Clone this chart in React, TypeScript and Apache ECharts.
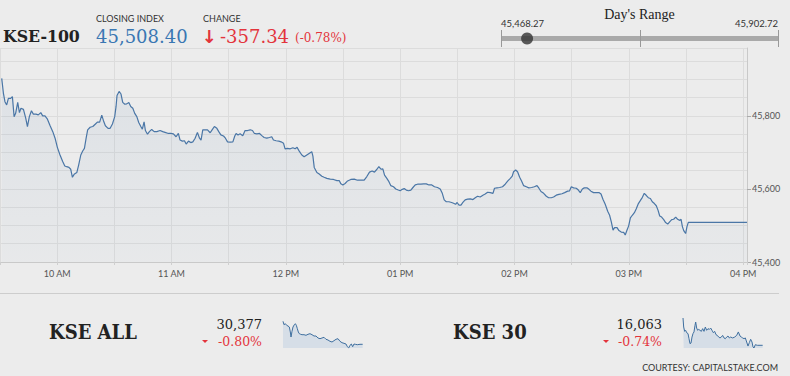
import React, { useEffect, useRef } from "react";
import * as echarts from "echarts";

// ---------- DATA ----------
// KSE-100 intraday points: [minutes since midnight, index value]
const kse100Points: [number, number][] = [
  [570.9, 45902.7], [571.8, 45862], [572.6, 45839], [573.5, 45830], [574.4, 45848], [575.6, 45848], [576.5, 45853], [577.4, 45798], [578.2, 45807], [579.3, 45837],
  [580.2, 45809], [581.0, 45821], [582.3, 45818], [583.5, 45794], [584.4, 45771], [585.4, 45798], [586.5, 45814], [587.5, 45805], [588.9, 45805], [590.1, 45803],
  [591.4, 45809], [592.4, 45800], [593.6, 45800], [594.9, 45791], [596.3, 45773], [597.7, 45757], [598.9, 45739], [600.1, 45714], [601.5, 45693], [602.9, 45675],
  [604.0, 45663], [605.0, 45661], [606.2, 45659], [607.1, 45654], [608.0, 45632], [608.9, 45640], [610.3, 45645], [611.3, 45666], [612.4, 45693], [613.4, 45704],
  [614.3, 45711], [615.2, 45739], [616.0, 45762], [617.3, 45769], [618.7, 45771], [620.1, 45778], [621.1, 45783], [622.3, 45783], [623.4, 45802], [624.3, 45787],
  [625.3, 45773], [626.7, 45766], [627.8, 45766], [629.0, 45778], [630.2, 45798], [630.9, 45826], [631.4, 45856], [632.5, 45867], [633.5, 45860], [634.4, 45837],
  [635.5, 45832], [636.5, 45833], [637.6, 45837], [638.6, 45826], [639.7, 45821], [640.7, 45807], [641.8, 45798], [642.8, 45782], [643.9, 45771], [644.7, 45764],
  [645.6, 45784], [646.3, 45760], [647.4, 45750], [648.4, 45757], [649.6, 45763], [650.9, 45757], [652.3, 45757], [654.0, 45760], [655.4, 45757], [656.6, 45755],
  [658.4, 45752], [659.6, 45752],
  [661.0, 45751], [662.4, 45743], [663.6, 45752], [664.5, 45734], [665.7, 45731], [666.8, 45732], [667.7, 45723], [668.9, 45731], [670.1, 45727], [671.2, 45729],
  [672.4, 45739], [673.6, 45755], [674.7, 45739], [675.5, 45734], [676.4, 45762], [677.6, 45762], [678.9, 45762], [680.3, 45754], [681.3, 45762], [682.5, 45771],
  [683.8, 45766], [684.8, 45757], [685.9, 45748], [687.3, 45745], [688.3, 45739], [689.4, 45729], [690.8, 45728], [692.2, 45729], [693.2, 45745], [693.9, 45752],
  [694.9, 45748], [696.0, 45751], [697.4, 45746], [698.6, 45760], [699.9, 45760], [701.3, 45762], [702.5, 45760], [703.5, 45752], [704.8, 45751], [706.2, 45752],
  [707.4, 45746], [708.6, 45741], [710.0, 45739], [711.4, 45741], [712.6, 45743], [713.5, 45734], [714.9, 45732], [716.3, 45731], [717.5, 45729], [718.8, 45725],
  [719.6, 45710], [720.9, 45711], [722.3, 45710], [723.7, 45713], [724.9, 45710], [725.9, 45714], [727.2, 45702], [728.4, 45693], [729.6, 45688], [731.0, 45693],
  [732.4, 45698], [733.6, 45702], [734.2, 45690], [734.9, 45659], [736.3, 45645], [737.5, 45641], [738.9, 45635], [740.1, 45632], [741.5, 45629], [743.3, 45627],
  [745.0, 45626], [746.8, 45623], [748.0, 45623], [748.9, 45614], [749.9, 45611],
  [751.1, 45615], [752.4, 45622], [754.1, 45626], [755.9, 45627], [757.6, 45624], [759.4, 45624], [761.1, 45624], [762.5, 45634], [763.9, 45646], [765.3, 45649],
  [766.5, 45646], [767.8, 45654], [768.8, 45661], [769.9, 45654], [770.9, 45655], [771.8, 45638], [773.0, 45629], [774.1, 45620], [775.1, 45609], [776.5, 45606],
  [777.7, 45600], [779.0, 45597], [780.0, 45595], [781.1, 45599], [782.1, 45601], [783.2, 45597], [784.4, 45595], [785.6, 45597], [786.7, 45604], [787.9, 45611],
  [789.1, 45613], [790.9, 45613], [792.3, 45614], [793.7, 45614], [795.1, 45611], [796.6, 45611], [798.0, 45606], [799.6, 45604], [801.0, 45600], [802.1, 45588],
  [803.1, 45570], [804.2, 45565], [805.6, 45565], [807.0, 45563], [808.0, 45561], [809.1, 45558], [809.9, 45563], [810.8, 45556], [811.9, 45556], [812.9, 45563],
  [814.1, 45570], [815.4, 45572], [816.8, 45573], [818.2, 45571], [819.4, 45576], [820.6, 45580], [822.0, 45578], [823.4, 45583], [824.6, 45586], [825.9, 45591],
  [827.3, 45590], [828.7, 45588], [829.5, 45602], [830.8, 45603], [832.2, 45604], [833.7, 45606], [835.1, 45613], [836.5, 45622], [837.8, 45629],
  [838.8, 45635], [839.5, 45647], [840.6, 45652], [841.6, 45647], [842.7, 45632], [843.7, 45622], [844.8, 45609], [846.2, 45606], [847.5, 45603], [849.0, 45604],
  [850.4, 45606], [851.8, 45609], [852.8, 45602], [853.9, 45593], [855.3, 45588], [856.7, 45580], [857.9, 45576], [859.3, 45576], [860.5, 45578], [861.9, 45583],
  [863.3, 45585], [864.9, 45587], [866.3, 45590], [867.9, 45594], [868.9, 45595], [869.8, 45606], [871.0, 45603], [872.4, 45602], [873.5, 45597], [874.5, 45590],
  [875.6, 45600], [876.6, 45603], [878.0, 45603], [879.1, 45599], [880.1, 45594], [881.5, 45590], [882.9, 45590], [884.3, 45590], [885.4, 45586], [886.4, 45572],
  [887.6, 45558], [888.9, 45539], [889.9, 45528], [890.8, 45510], [891.7, 45487], [892.5, 45494], [893.8, 45494], [894.8, 45486], [896.0, 45482], [897.3, 45481],
  [898.1, 45474], [899.0, 45487], [899.9, 45499], [900.8, 45521], [901.8, 45528], [902.9, 45535], [903.9, 45546], [905.0, 45560], [906.0, 45568], [907.1, 45577],
  [908.1, 45588], [909.2, 45582], [910.2, 45576], [911.3, 45574], [912.3, 45565], [913.4, 45560], [914.4, 45554], [915.3, 45542], [916.2, 45526], [917.2, 45523],
  [918.3, 45516], [919.3, 45508], [920.4, 45504], [921.4, 45510], [922.5, 45516], [923.5, 45517], [924.6, 45523], [925.6, 45517], [926.7, 45514], [927.4, 45517],
  [928.1, 45497], [928.8, 45486], [929.8, 45478], [930.5, 45497], [931.2, 45508.4], [962, 45508.4],
];

// KSE ALL sparkline: [minutes since midnight, value]
const kseAllPoints: [number, number][] = [
  [570, 30607], [574.9, 30573], [581.4, 30583], [587.9, 30567], [594.4, 30560], [600.9, 30550], [605.8, 30500], [609, 30450], [613.9, 30507], [618.8, 30550],
  [625.3, 30573], [630.1, 30583], [635, 30567], [639.9, 30533], [644.8, 30500], [649.6, 30483], [656.1, 30477], [662.6, 30473], [672.4, 30473], [682.1, 30467],
  [691.9, 30477], [701.6, 30483], [711.4, 30473], [721.1, 30460], [730.9, 30460], [740.6, 30440], [750.4, 30433], [760.1, 30440], [769.9, 30447], [779.6, 30427],
  [789.4, 30420], [799.1, 30407], [808.9, 30400], [818.6, 30413], [828.4, 30427], [838.1, 30433], [847.9, 30407], [857.6, 30393], [867.4, 30387], [877.1, 30380],
  [883.6, 30353], [890.1, 30340], [896.6, 30367], [903.1, 30380], [909.6, 30353], [916.1, 30380], [922.6, 30377], [932.4, 30373], [945.4, 30377], [958.4, 30377],
];

// KSE 30 sparkline: [minutes since midnight, value]
const kse30Points: [number, number][] = [
  [570, 16245], [573.3, 16185], [578.1, 16156], [583, 16163], [587.9, 16147], [594.4, 16141], [599.3, 16107], [604.1, 16074], [609, 16078], [613.9, 16118],
  [618.8, 16141], [623.6, 16152], [628.5, 16196], [631.8, 16218], [636.6, 16178], [641.5, 16163], [646.4, 16169], [652.9, 16163], [659.4, 16156], [665.9, 16174],
  [672.4, 16156], [678.9, 16185], [685.4, 16163], [691.9, 16174], [698.4, 16169], [704.9, 16178], [711.4, 16163], [717.9, 16147], [724.4, 16156], [730.9, 16134],
  [737.4, 16129], [743.9, 16118], [750.4, 16112], [756.9, 16118], [763.4, 16129], [769.9, 16112], [776.4, 16107], [782.9, 16118], [789.4, 16125], [795.9, 16112],
  [802.4, 16118], [812.1, 16112], [821.9, 16118], [831.6, 16129], [839.8, 16152], [847.9, 16125], [854.4, 16118], [860.9, 16112], [867.4, 16107], [873.9, 16112],
  [880.4, 16085], [886.9, 16058], [893.4, 16081], [899.9, 16103], [906.4, 16085], [911.3, 16052], [916.1, 16045], [922.6, 16067], [932.4, 16063], [945.4, 16063],
  [958.4, 16063],
];

const hourTickLabels: Record<number, string> = {
  600: "10 AM", 660: "11 AM", 720: "12 PM", 780: "01 PM", 840: "02 PM", 900: "03 PM", 960: "04 PM",
};
const yTickLabels = [45400, 45600, 45800];

const indexName = "KSE-100";
const closingIndex = 45508.4;
const changeValue = -357.34;
const changePct = -0.78;
const dayLow = 45468.27;
const dayHigh = 45902.72;

const kseAllSummary = { name: "KSE ALL", value: 30377, pct: -0.8 };
const kse30Summary = { name: "KSE 30", value: 16063, pct: -0.74 };

// ---------- STYLE ----------
const BG = "#ececec";
const RED = "#e3343c";
const BLUE = "#3a77b3";
const LINE = "#4a76a6";
const SERIF = '"DejaVu Serif", serif';
const SERIF_COND = '"DejaVu Serif Condensed", "DejaVu Serif", serif';
const SANS = 'Lato, "Open Sans", sans-serif';

const fmt2 = (v: number) =>
  v.toLocaleString("en-US", { minimumFractionDigits: 2, maximumFractionDigits: 2 });
const fmt0 = (v: number) => v.toLocaleString("en-US", { maximumFractionDigits: 0 });

function txt(
  x: number,
  y: number,
  text: string,
  fontSize: number,
  fontFamily: string,
  fill: string,
  align: "left" | "center" | "right" = "left",
  fontWeight: string = "normal"
) {
  return {
    type: "text",
    x,
    y,
    silent: true,
    style: {
      text,
      fill,
      fontSize,
      fontFamily,
      fontWeight,
      align,
      textAlign: align,
      verticalAlign: "middle",
      textVerticalAlign: "middle",
    },
  };
}

function downTriangle(cx: number, cy: number) {
  return {
    type: "polygon",
    silent: true,
    shape: { points: [[cx - 3, cy - 1.5], [cx + 3, cy - 1.5], [cx, cy + 1.5]] },
    style: { fill: RED },
  };
}

export default function App() {
  const ref = useRef<HTMLDivElement>(null);

  useEffect(() => {
    if (!ref.current) return;
    const chart = echarts.init(ref.current, undefined, { renderer: "svg" });

    const sparkSeries = (pts: [number, number][], idx: number) => ({
      type: "line",
      xAxisIndex: idx,
      yAxisIndex: idx + 1,
      data: pts,
      symbol: "none",
      silent: true,
      lineStyle: { color: "#3f6f9f", width: 1 },
      areaStyle: { color: "#d6dee7", opacity: 1, origin: "start" },
    });

    const option: any = {
      animation: false,
      backgroundColor: BG,
      grid: [
        { left: 0, top: 48, width: 747, height: 214, outerBoundsMode: "none" },
        { left: 501.5, top: 30, width: 277, height: 17, outerBoundsMode: "none" },
        { left: 283, top: 318, width: 80, height: 30, outerBoundsMode: "none" },
        { left: 683, top: 318, width: 80, height: 30, outerBoundsMode: "none" },
      ],
      xAxis: [
        {
          type: "value",
          gridIndex: 0,
          min: 570,
          max: 962,
          interval: 30,
          axisLine: { show: true, lineStyle: { color: "#c9c9c9", width: 1 } },
          axisTick: { show: true, length: 3, lineStyle: { color: "#cfcfcf" } },
          splitLine: { show: true, lineStyle: { color: "#dcdcdc", width: 1 } },
          axisLabel: {
            formatter: (v: number) => hourTickLabels[v] ?? "",
            color: "#555",
            fontSize: 9,
            fontFamily: SANS,
            margin: 7,
          },
        },
        { type: "value", gridIndex: 1, min: dayLow, max: dayHigh, show: false },
        { type: "value", gridIndex: 2, min: 570, max: 960, show: false },
        { type: "value", gridIndex: 3, min: 570, max: 960, show: false },
      ],
      yAxis: [
        {
          type: "value",
          gridIndex: 0,
          position: "right",
          min: 45400,
          max: 45986,
          interval: 50,
          axisLine: { show: true, lineStyle: { color: "#c9c9c9", width: 1 } },
          axisTick: { show: false },
          axisLabel: { show: false },
          splitLine: { show: true, lineStyle: { color: "#dcdcdc", width: 1 } },
        },
        {
          type: "value",
          gridIndex: 0,
          position: "right",
          min: 45400,
          max: 45986,
          interval: 200,
          axisLine: { show: false },
          axisTick: {
            show: true,
            length: 4,
            lineStyle: { color: "#aaa" },
            customValues: yTickLabels,
          },
          splitLine: { show: false },
          axisLabel: {
            formatter: (v: number) => (yTickLabels.includes(v) ? fmt0(v) : ""),
            color: "#555",
            fontSize: 9,
            fontFamily: SANS,
            margin: 5,
          },
        },
        { type: "value", gridIndex: 1, min: -1, max: 1, show: false },
        { type: "value", gridIndex: 2, min: 30340, max: 30640, show: false },
        { type: "value", gridIndex: 3, min: 16045, max: 16245, show: false },
      ],
      series: [
        {
          type: "line",
          xAxisIndex: 0,
          yAxisIndex: 0,
          data: kse100Points,
          symbol: "none",
          silent: true,
          lineStyle: { color: LINE, width: 1.2 },
          areaStyle: {
            origin: "start",
            color: new echarts.graphic.LinearGradient(0, 0, 0, 1, [
              { offset: 0, color: "rgba(74,118,166,0.13)" },
              { offset: 1, color: "rgba(74,118,166,0.04)" },
            ]),
          },
        },
        {
          type: "line",
          xAxisIndex: 1,
          yAxisIndex: 2,
          data: [
            [dayLow, 0],
            [dayHigh, 0],
          ],
          symbol: "none",
          silent: true,
          lineStyle: { color: "#a9a9a9", width: 5, cap: "butt" },
          markLine: {
            silent: true,
            symbol: "none",
            label: { show: false },
            lineStyle: { color: "#999", type: "solid", width: 1 },
            data: [{ xAxis: dayLow }, { xAxis: (dayLow + dayHigh) / 2 }, { xAxis: dayHigh }],
          },
        },
        {
          type: "scatter",
          xAxisIndex: 1,
          yAxisIndex: 2,
          data: [[closingIndex, 0]],
          symbolSize: 12,
          silent: true,
          itemStyle: { color: "#333" },
          z: 5,
        },
        sparkSeries(kseAllPoints, 2),
        sparkSeries(kse30Points, 3),
      ],
      graphic: [
        // header
        txt(3, 36, indexName, 17.5, SERIF_COND, "#222", "left", "bold"),
        txt(96, 18, "CLOSING INDEX", 9, SANS, "#333"),
        txt(96, 36.5, fmt2(closingIndex), 18, SERIF, BLUE),
        txt(203, 18, "CHANGE", 9, SANS, "#333"),
        txt(201.5, 36.5, "\u2193", 18, '"DejaVu Sans", sans-serif', RED, "left", "bold"),
        txt(220, 36.5, changeValue.toFixed(2), 18, SERIF, RED),
        txt(295, 37.5, `(${changePct.toFixed(2)}%)`, 12, SERIF, RED),
        // day's range
        txt(639.5, 14, "Day's Range", 14, '"Liberation Serif", serif', "#222", "center"),
        txt(501, 23, fmt2(dayLow), 9.5, SANS, "#333", "left"),
        txt(778, 23, fmt2(dayHigh), 9.5, SANS, "#333", "right"),
        // separator
        {
          type: "line",
          silent: true,
          shape: { x1: 0, y1: 293.5, x2: 779, y2: 293.5 },
          style: { stroke: "#cdcdcd", lineWidth: 1 },
        },
        // KSE ALL
        txt(49, 332, kseAllSummary.name, 20, SERIF_COND, "#222", "left", "bold"),
        txt(262, 324, fmt0(kseAllSummary.value), 13, SERIF, "#222", "right"),
        txt(262, 341.5, `${kseAllSummary.pct.toFixed(2)}%`, 12.5, SERIF, RED, "right"),
        downTriangle(205, 341.5),
        // KSE 30
        txt(453, 332, kse30Summary.name, 20, SERIF_COND, "#222", "left", "bold"),
        txt(662, 324, fmt0(kse30Summary.value), 13, SERIF, "#222", "right"),
        txt(662, 341.5, `${kse30Summary.pct.toFixed(2)}%`, 12.5, SERIF, RED, "right"),
        downTriangle(606, 341.5),
        // courtesy
        txt(778, 367, "COURTESY: CAPITALSTAKE.COM", 9, SANS, "#333", "right"),
      ],
    };

    chart.setOption(option);
    return () => chart.dispose();
  }, []);

  return (
    <div
      ref={ref}
      style={{ position: "absolute", left: 0, top: 0, width: 790, height: 376, background: BG }}
    />
  );
}
